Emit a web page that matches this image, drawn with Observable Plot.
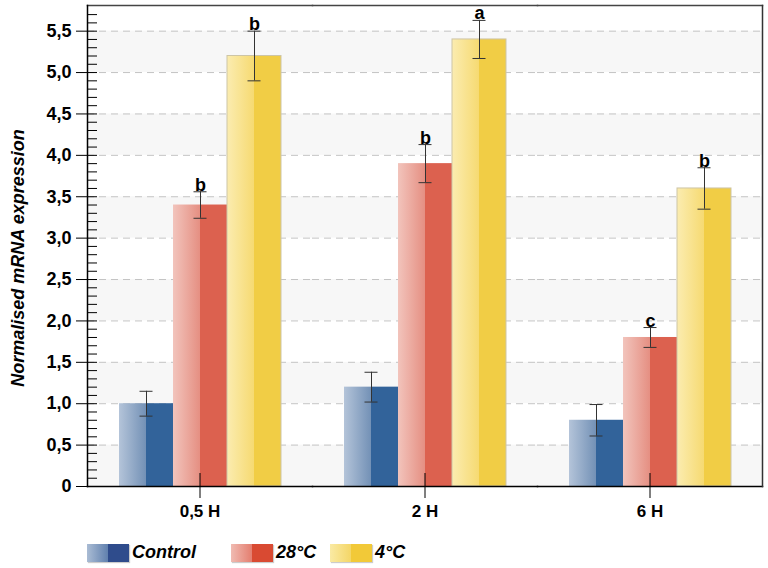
<!DOCTYPE html>
<html>
<head>
<meta charset="utf-8">
<script src="https://cdn.jsdelivr.net/npm/d3@7"></script>
<script src="https://cdn.jsdelivr.net/npm/@observablehq/plot@0.6"></script>
<style>
  body { margin: 0; background: #fff; font-family: "Liberation Sans", Arial, sans-serif; }
  #legend { position: relative; width: 768px; height: 38px; }
  .sw { position: absolute; top: 14px; width: 42px; height: 18px; box-shadow: 1px 1px 1px rgba(0,0,0,0.2); }
  .lt { position: absolute; top: 11px; font-size: 18px; font-weight: bold; font-style: italic; color: #000; line-height: 22px; }
</style>
</head>
<body>
<svg width="0" height="0" style="position:absolute">
  <defs>
    <linearGradient id="gControl" x1="0" x2="1" y1="0" y2="0">
      <stop offset="0" stop-color="#b4c4d9"/>
      <stop offset="0.5" stop-color="#7391b6"/>
      <stop offset="0.5" stop-color="#32639a"/>
      <stop offset="1" stop-color="#32639a"/>
    </linearGradient>
    <linearGradient id="g28" x1="0" x2="1" y1="0" y2="0">
      <stop offset="0" stop-color="#f2c4bc"/>
      <stop offset="0.5" stop-color="#e58f82"/>
      <stop offset="0.5" stop-color="#dc614f"/>
      <stop offset="1" stop-color="#dc614f"/>
    </linearGradient>
    <linearGradient id="g4" x1="0" x2="1" y1="0" y2="0">
      <stop offset="0" stop-color="#fbecb0"/>
      <stop offset="0.5" stop-color="#f6da72"/>
      <stop offset="0.5" stop-color="#f1cd45"/>
      <stop offset="1" stop-color="#f1cd45"/>
    </linearGradient>
  </defs>
</svg>
<div id="chart"></div>
<div id="legend"></div>
<script>
const groups = ["0,5 H", "2 H", "6 H"];
const treatments = ["Control", "28°C", "4°C"];
const controlValues = [1.0, 1.2, 0.8];
const t28Values = [3.4, 3.9, 1.8];
const t4Values = [5.2, 5.4, 3.6];
const controlErr = [0.15, 0.18, 0.19];
const t28Err = [0.16, 0.23, 0.12];
const t4Err = [0.30, 0.23, 0.25];
const controlLetters = ["", "", ""];
const t28Letters = ["b", "b", "c"];
const t4Letters = ["b", "a", "b"];
const yMajorTicks = [0, 0.5, 1, 1.5, 2, 2.5, 3, 3.5, 4, 4.5, 5, 5.5];
const yMax = 5.81;

const gradIds = ["url(#gControl)", "url(#g28)", "url(#g4)"];
const valuesBy = [controlValues, t28Values, t4Values];
const errBy = [controlErr, t28Err, t4Err];
const lettersBy = [controlLetters, t28Letters, t4Letters];

const rows = [];
groups.forEach((g, i) => treatments.forEach((t, k) => {
  rows.push({group: g, treatment: t, value: valuesBy[k][i], err: errBy[k][i], letter: lettersBy[k][i], k});
}));

const bandStarts = yMajorTicks.filter((d, i) => i % 2 === 0);
const gridTicks = yMajorTicks.filter(d => d > 0);
const minorTicks = d3.range(0, 58).map(i => i / 10);
const fmt = d => d === 0 ? "0" : d3.format(".1f")(d).replace(".", ",");

const chart = Plot.plot({
  width: 768,
  height: 530,
  marginLeft: 87,
  marginRight: 6,
  marginTop: 5,
  marginBottom: 44,
  style: {fontFamily: "'Liberation Sans', Arial, sans-serif", fontSize: "17px", fontWeight: "bold", background: "#fff", color: "#000"},
  fx: {domain: groups, padding: 0, label: null, axis: null},
  x: {domain: treatments, paddingInner: 0, paddingOuter: 0.564, axis: null},
  y: {domain: [0, yMax], label: null, axis: null},
  marks: [
    Plot.rectY(bandStarts, {y1: d => d, y2: d => d + 0.5, fill: "#f7f7f7"}),
    Plot.gridY(gridTicks, {stroke: "#c4c4c4", strokeOpacity: 1, strokeDasharray: "7,5"}),
    ...treatments.map((t, k) => Plot.barY(rows.filter(d => d.k === k), {
      fx: "group", x: "treatment", y: "value", fill: gradIds[k],
      stroke: k === 2 ? "#cdc5a6" : "none", strokeWidth: 1
    })),
    Plot.ruleX(rows, {fx: "group", x: "treatment", y1: d => d.value - d.err, y2: d => d.value + d.err, stroke: "#333", strokeWidth: 1}),
    Plot.tickY(rows, {fx: "group", x: "treatment", y: d => d.value - d.err, stroke: "#333", insetLeft: 20.5, insetRight: 20.5}),
    Plot.tickY(rows, {fx: "group", x: "treatment", y: d => d.value + d.err, stroke: "#333", insetLeft: 20.5, insetRight: 20.5}),
    Plot.text(rows.filter(d => d.letter), {fx: "group", x: "treatment", y: d => d.value + d.err, text: "letter", lineAnchor: "bottom", dy: -1, fontSize: 18, fontWeight: "bold"}),
    Plot.frame({anchor: "top", stroke: "#444", strokeWidth: 1.5}),
    Plot.frame({anchor: "bottom", stroke: "#000", strokeWidth: 1.5}),
    Plot.frame({anchor: "left", facetAnchor: "left", stroke: "#000", strokeWidth: 1.5}),
    Plot.frame({anchor: "right", facetAnchor: "right", stroke: "#333", strokeWidth: 1.5}),
    Plot.axisY({ticks: yMajorTicks, tickFormat: fmt, tickSize: 11, tickPadding: 5, label: null, fontSize: 18, fontWeight: "bold"}),
    Plot.axisY({ticks: minorTicks, tickSize: -10, tickFormat: null, text: null, label: null}),
    Plot.axisFx({anchor: "bottom", tickSize: 12, tickPadding: 6, label: null, fontSize: 17, fontWeight: "bold"}),
    Plot.axisFx({anchor: "bottom", tickSize: -13, text: null, label: null}),
    Plot.text(["Normalised mRNA expression"], {frameAnchor: "left", facetAnchor: "left", rotate: -90, dx: -69, dy: 12, fontSize: 18, fontWeight: "bold", fontStyle: "italic", textAnchor: "middle"})
  ]
});
document.getElementById("chart").appendChild(chart);

// legend
const swatchCss = [
  "linear-gradient(to right, #aabcd4 0%, #6080ae 50%, #2f4c8c 50%, #2f4c8c 100%)",
  "linear-gradient(to right, #f0bbb2 0%, #e47e6f 50%, #d94a32 50%, #d94a32 100%)",
  "linear-gradient(to right, #faeaa4 0%, #f4d667 50%, #f2c938 50%, #f2c938 100%)"
];
const swatchLeft = [87, 231, 330];
const legend = document.getElementById("legend");
treatments.forEach((t, k) => {
  const sw = document.createElement("div");
  sw.className = "sw";
  sw.style.left = swatchLeft[k] + "px";
  sw.style.background = swatchCss[k];
  legend.appendChild(sw);
  const lt = document.createElement("div");
  lt.className = "lt";
  lt.style.left = (swatchLeft[k] + 45) + "px";
  lt.textContent = t;
  legend.appendChild(lt);
});
</script>
</body>
</html>
